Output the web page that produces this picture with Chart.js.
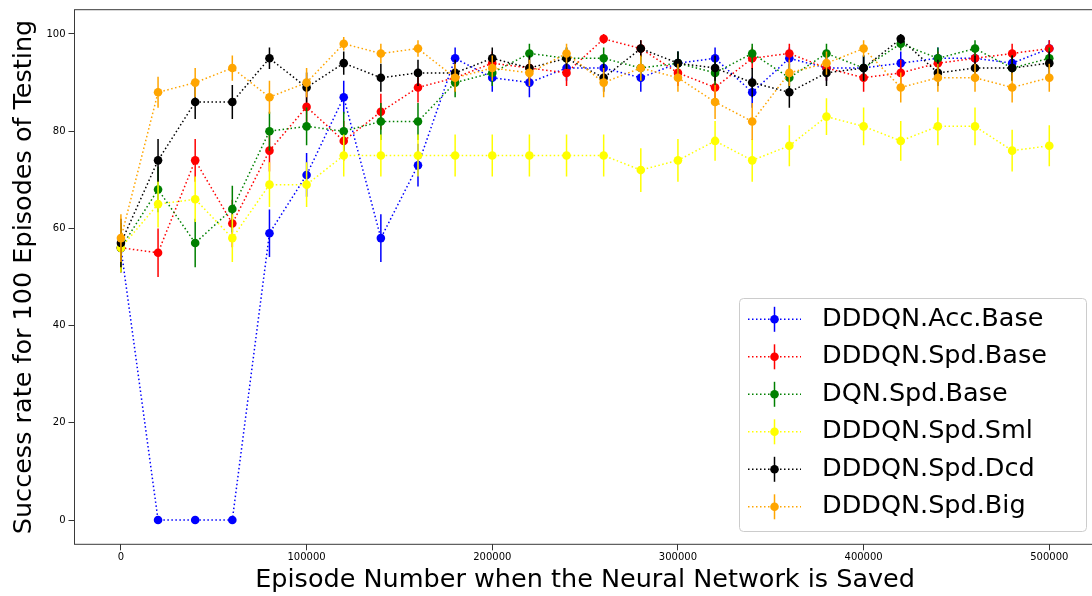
<!DOCTYPE html>
<html>
<head>
<meta charset="utf-8">
<title>Success rate during training</title>
<script src="https://cdn.jsdelivr.net/npm/chart.js@4.4.0/dist/chart.umd.min.js"></script>
<style>
  html, body { margin: 0; padding: 0; background: #ffffff; overflow: hidden; }
  #wrap { position: absolute; left: 0; top: 0; width: 1100px; height: 596px; }
</style>
</head>
<body>
<div id="wrap"><canvas id="chart" width="1100" height="596"></canvas></div>
<script>
// Episode at which each network snapshot was saved
const episodes = [0, 20000, 40000, 60000, 80000, 100000, 120000, 140000, 160000, 180000,
  200000, 220000, 240000, 260000, 280000, 300000, 320000, 340000, 360000, 380000,
  400000, 420000, 440000, 460000, 480000, 500000];

const xTicks = [0, 100000, 200000, 300000, 400000, 500000];
const yTicks = [0, 20, 40, 60, 80, 100];

const seriesNames = ['DDDQN.Acc.Base', 'DDDQN.Spd.Base', 'DQN.Spd.Base',
  'DDDQN.Spd.Sml', 'DDDQN.Spd.Dcd', 'DDDQN.Spd.Big'];
const seriesColors = ['#0000ff', '#ff0000', '#008000', '#ffff00', '#000000', '#ffa500'];

// Success rate (%) over 100 test episodes
const accBase = [56, 0, 0, 0, 59, 71, 87, 58, 73, 95, 91, 90, 93, 93, 91, 94, 95, 88, 95, 93, 93, 94, 95, 95, 94, 97];
const spdBase = [56, 55, 74, 61, 76, 85, 78, 84, 89, 91, 94, 93, 92, 99, 97, 92, 89, 95, 96, 93, 91, 92, 94, 95, 96, 97];
const dqnBase = [56, 68, 57, 64, 80, 81, 80, 82, 82, 90, 92, 96, 95, 95, 93, 94, 92, 96, 91, 96, 93, 98, 95, 97, 93, 95];
const spdSml  = [56, 65, 66, 58, 69, 69, 75, 75, 75, 75, 75, 75, 75, 75, 72, 74, 78, 74, 77, 83, 81, 78, 81, 81, 76, 77];
const spdDcd  = [57, 74, 86, 86, 95, 89, 94, 91, 92, 92, 95, 93, 95, 91, 97, 94, 93, 90, 88, 92, 93, 99, 92, 93, 93, 94];
const spdBig  = [58, 88, 90, 93, 87, 90, 98, 96, 97, 91, 93, 92, 96, 90, 93, 91, 86, 82, 92, 94, 97, 89, 91, 91, 89, 91];

// Standard deviation of each success rate (error bar half-length)
const accBaseErr = [5.0, 0, 0, 0, 4.9, 4.5, 3.4, 4.9, 4.4, 2.2, 2.9, 3.0, 2.6, 2.6, 2.9, 2.4, 2.2, 3.2, 2.2, 2.6, 2.6, 2.4, 2.2, 2.2, 2.4, 1.7];
const spdBaseErr = [5.0, 5.0, 4.4, 4.9, 4.3, 3.6, 4.1, 3.7, 3.1, 2.9, 2.4, 2.6, 2.7, 1.0, 1.7, 2.7, 3.1, 2.2, 2.0, 2.6, 2.9, 2.7, 2.4, 2.2, 2.0, 1.7];
const dqnBaseErr = [5.0, 4.7, 5.0, 4.8, 4.0, 3.9, 4.0, 3.8, 3.8, 3.0, 2.7, 2.0, 2.2, 2.2, 2.6, 2.4, 2.7, 2.0, 2.9, 2.0, 2.6, 1.4, 2.2, 1.7, 2.6, 2.2];
const spdSmlErr  = [5.0, 4.8, 4.7, 4.9, 4.6, 4.6, 4.3, 4.3, 4.3, 4.3, 4.3, 4.3, 4.3, 4.3, 4.5, 4.4, 4.1, 4.4, 4.2, 3.8, 3.9, 4.1, 3.9, 3.9, 4.3, 4.2];
const spdDcdErr  = [5.0, 4.4, 3.5, 3.5, 2.2, 3.1, 2.4, 2.9, 2.7, 2.7, 2.2, 2.6, 2.2, 2.9, 1.7, 2.4, 2.6, 3.0, 3.2, 2.7, 2.6, 1.0, 2.7, 2.6, 2.6, 2.4];
const spdBigErr  = [4.9, 3.2, 3.0, 2.6, 3.4, 3.0, 1.4, 2.0, 1.7, 2.9, 2.6, 2.7, 2.0, 3.0, 2.6, 2.9, 3.5, 3.8, 2.7, 2.4, 1.7, 3.1, 2.9, 2.9, 3.1, 2.9];

const seriesValues = [accBase, spdBase, dqnBase, spdSml, spdDcd, spdBig];
const seriesErrors = [accBaseErr, spdBaseErr, dqnBaseErr, spdSmlErr, spdDcdErr, spdBigErr];

const FONT = '"DejaVu Sans", "Liberation Sans", sans-serif';
const LABEL_SIZE = 25.5;

const datasets = seriesNames.map((name, i) => ({
  label: name,
  data: episodes.map((ep, k) => ({ x: ep, y: seriesValues[i][k] })),
  errors: seriesErrors[i],
  borderColor: seriesColors[i],
  backgroundColor: seriesColors[i],
  pointBackgroundColor: seriesColors[i],
  pointBorderWidth: 0,
  pointRadius: 4.3,
  borderWidth: 1.5,
  borderDash: [1.5, 2.5],
  borderCapStyle: 'butt',
  tension: 0,
  fill: false,
  order: seriesNames.length - 1 - i   // later series drawn on top
}));

// Vertical error bars, drawn just before each series' line and markers
const errorBars = {
  id: 'errorBars',
  beforeDatasetDraw(chart, args) {
    const ds = chart.data.datasets[args.index];
    const xs = chart.scales.x, ys = chart.scales.y;
    const ctx = chart.ctx;
    ctx.save();
    ctx.strokeStyle = ds.borderColor;
    ctx.lineWidth = 1.5;
    ctx.setLineDash([]);
    ctx.beginPath();
    ds.data.forEach((p, k) => {
      const e = ds.errors[k];
      if (!e) return;
      const px = xs.getPixelForValue(p.x);
      ctx.moveTo(px, ys.getPixelForValue(p.y - e));
      ctx.lineTo(px, ys.getPixelForValue(p.y + e));
    });
    ctx.stroke();
    ctx.restore();
  }
};

// Box frame around the plotting area
const frame = {
  id: 'frame',
  beforeDatasetsDraw(chart) {
    const a = chart.chartArea, ctx = chart.ctx;
    ctx.save();
    ctx.strokeStyle = '#3a3a3a';
    ctx.lineWidth = 1;
    ctx.strokeRect(a.left, a.top, a.right - a.left, a.bottom - a.top);
    ctx.restore();
  }
};

// Legend in the lower right corner, with line, marker and error-bar handles
const legendBox = {
  id: 'legendBox',
  afterDraw(chart) {
    const ctx = chart.ctx;
    const L = 739.5, T = 298.5, W = 347, H = 233;
    ctx.save();
    ctx.beginPath();
    ctx.roundRect(L, T, W, H, 4);
    ctx.fillStyle = 'rgba(255,255,255,0.85)';
    ctx.fill();
    ctx.strokeStyle = '#cccccc';
    ctx.lineWidth = 1;
    ctx.stroke();
    chart.data.datasets.forEach((ds, i) => {
      const cy = 319.3 + i * 37.5;
      const hx = 774.5;
      ctx.strokeStyle = ds.borderColor;
      ctx.lineWidth = 1.5;
      ctx.setLineDash([1.5, 2.5]);
      ctx.beginPath();
      ctx.moveTo(748, cy);
      ctx.lineTo(801, cy);
      ctx.stroke();
      ctx.setLineDash([]);
      ctx.beginPath();
      ctx.moveTo(hx, cy - 12.5);
      ctx.lineTo(hx, cy + 12.5);
      ctx.stroke();
      ctx.beginPath();
      ctx.arc(hx, cy, 4.3, 0, Math.PI * 2);
      ctx.fillStyle = ds.borderColor;
      ctx.fill();
      ctx.fillStyle = '#000000';
      ctx.font = LABEL_SIZE + 'px ' + FONT;
      ctx.textBaseline = 'middle';
      ctx.textAlign = 'left';
      ctx.fillText(ds.label, 822, cy);
    });
    ctx.restore();
  }
};

new Chart(document.getElementById('chart'), {
  type: 'line',
  data: { datasets },
  plugins: [errorBars, frame, legendBox],
  options: {
    responsive: false,
    devicePixelRatio: 1,
    animation: false,
    layout: { padding: { top: 9.7, right: 2.5, left: 0, bottom: 0 } },
    plugins: {
      legend: { display: false },
      tooltip: { enabled: false }
    },
    scales: {
      x: {
        type: 'linear',
        min: -25000,
        max: 525000,
        afterBuildTicks: axis => { axis.ticks = xTicks.map(v => ({ value: v })); },
        afterFit: axis => { axis.height = 51.7; },
        border: { display: false },
        grid: { display: true, drawOnChartArea: false, drawTicks: true, tickLength: 6, color: '#333333', lineWidth: 1 },
        ticks: {
          autoSkip: false, maxRotation: 0, padding: 1,
          color: '#000000', font: { family: FONT, size: 10 },
          callback: v => String(v)
        },
        title: {
          display: true,
          text: 'Episode Number when the Neural Network is Saved',
          color: '#000000',
          font: { family: FONT, size: LABEL_SIZE, lineHeight: 1.2 },
          padding: { top: 0, bottom: 0 }
        }
      },
      y: {
        type: 'linear',
        min: -5,
        max: 105,
        afterBuildTicks: axis => { axis.ticks = yTicks.map(v => ({ value: v })); },
        afterFit: axis => { axis.width = 74.5; },
        border: { display: false },
        grid: { display: true, drawOnChartArea: false, drawTicks: true, tickLength: 6, color: '#333333', lineWidth: 1 },
        ticks: {
          padding: 3,
          color: '#000000', font: { family: FONT, size: 10 },
          callback: v => String(v)
        },
        title: {
          display: true,
          text: 'Success rate for 100 Episodes of Testing',
          color: '#000000',
          font: { family: FONT, size: LABEL_SIZE, lineHeight: 1.2 },
          padding: { top: 9, bottom: 0 }
        }
      }
    }
  }
});
</script>
</body>
</html>
